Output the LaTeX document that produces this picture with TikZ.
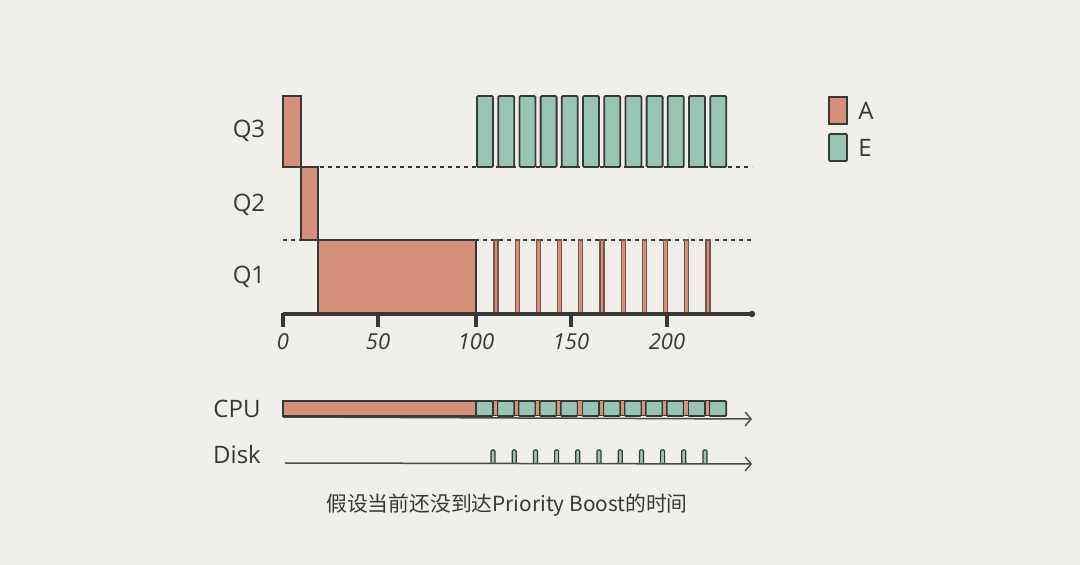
\documentclass[tikz,border=0pt]{standalone}
\usepackage{fontspec}
\setmainfont{Open Sans}
\newfontfamily\cjk{Noto Sans CJK SC}
\usepackage{tikz}
\usetikzlibrary{arrows.meta, positioning}

\definecolor{paper}{HTML}{F0EFEA}
\definecolor{jobA}{HTML}{D4907A}
\definecolor{jobE}{HTML}{98C4B4}
\definecolor{ink}{HTML}{383838}

\begin{document}
\begin{tikzpicture}[x=0.5pt, y=-0.5pt]
		\tikzset{abox/.style={fill=jobA, draw=ink, line width=0.9pt}}
		\tikzset{ebox/.style={fill=jobE, draw=ink, line width=0.9pt, rounded corners=0.6pt}}
		\tikzset{sliver/.style={fill=jobA, draw=ink!65!jobA, line width=0.6pt}}
		\tikzset{level/.style={draw=ink, line width=0.9pt, dash pattern=on 2pt off 2pt}}
		\tikzset{lab/.style={text=ink, font=\fontsize{12}{12}\selectfont, inner sep=0}}
		\tikzset{num/.style={text=ink, font=\fontsize{11}{11}\selectfont\itshape, inner sep=0}}
		\tikzset{timeline/.style={draw=ink!90, line width=0.75pt, -{Straight Barb[length=3pt, width=7pt, line width=0.7pt]}}}
		\useasboundingbox (0,0) rectangle (1080,565);
		\fill[paper] (0,0) rectangle (1080,565);
		% queue labels
		\node[lab] at (249,131) (q3) {Q3};
		\node[lab] at (249,205) (q2) {Q2};
		\node[lab] at (249,277) (q1) {Q1};
		% level lines
		\coordinate (l3a) at (312,167);
		\coordinate (l3b) at (752,167);
		\coordinate (l2a) at (283,240);
		\coordinate (l2b) at (752,240);
		\draw[level] (l3a) -- (l3b);
		\draw[level] (l2a) -- (l2b);
		% job A
		\draw[abox] (283,96) rectangle (301,167);
		\draw[abox] (301,167) rectangle (318,240);
		\draw[abox] (318,240) rectangle (476,314);
		\foreach \i in {0,...,10}
			\draw[sliver] ({494+21.2*\i},240) rectangle ++(4,74);
		% job E
		\foreach \i in {0,...,11}
			\draw[ebox] ({477+21.2*\i},96) rectangle ++(16,71);
		% time axis
		\coordinate (o) at (283,314);
		\coordinate (axend) at (752,314);
		\draw[ink, line width=1.6pt] (o) -- (axend);
		\fill[ink] (axend) circle (3.2);
		\foreach \t/\x in {0/283, 50/378, 100/476, 150/571, 200/667} {
			\draw[ink, line width=1.8pt] (\x,313) -- (\x,327);
			\node[num] at (\x,342) {\t};
		}
		% legend
		\draw[abox] (829,97) rectangle (847,124);
		\draw[ebox] (829,134) rectangle (847,161);
		\node[lab, anchor=west] at (858,111) (la) {A};
		\node[lab, anchor=west] at (858,148) (le) {E};
		% CPU row
		\node[lab] at (237,409) (cpu) {CPU};
		\coordinate (cpu0) at (283,417);
		\coordinate (cpuend) at (752,419);
		\draw[timeline] (cpu0) -- (cpuend);
		\draw[abox] (283,401) rectangle (476,416);
		\foreach \i in {0,...,11}
			\draw[ebox] ({476+21.2*\i},401) rectangle ++(17,15);
		\foreach \i in {0,...,10}
			\draw[abox, line width=0.5pt] ({493+21.2*\i},401) rectangle ++(4.2,15);
		% Disk row
		\node[lab] at (237,455) (disk) {Disk};
		\coordinate (disk0) at (285,463);
		\coordinate (diskend) at (752,464);
		\foreach \i in {0,...,10}
			\draw[ebox, line width=0.6pt] ({491+21.2*\i},463) -- ++(0,-13) -- ++(4,0) -- ++(0,13);
		\draw[timeline] (disk0) -- (diskend);
		% caption
		\node[text=ink, font=\cjk\fontsize{10.4}{10.4}\selectfont, inner sep=0] at (507,505) (cap) {假设当前还没到达Priority Boost的时间};
	\end{tikzpicture}
\end{document}
